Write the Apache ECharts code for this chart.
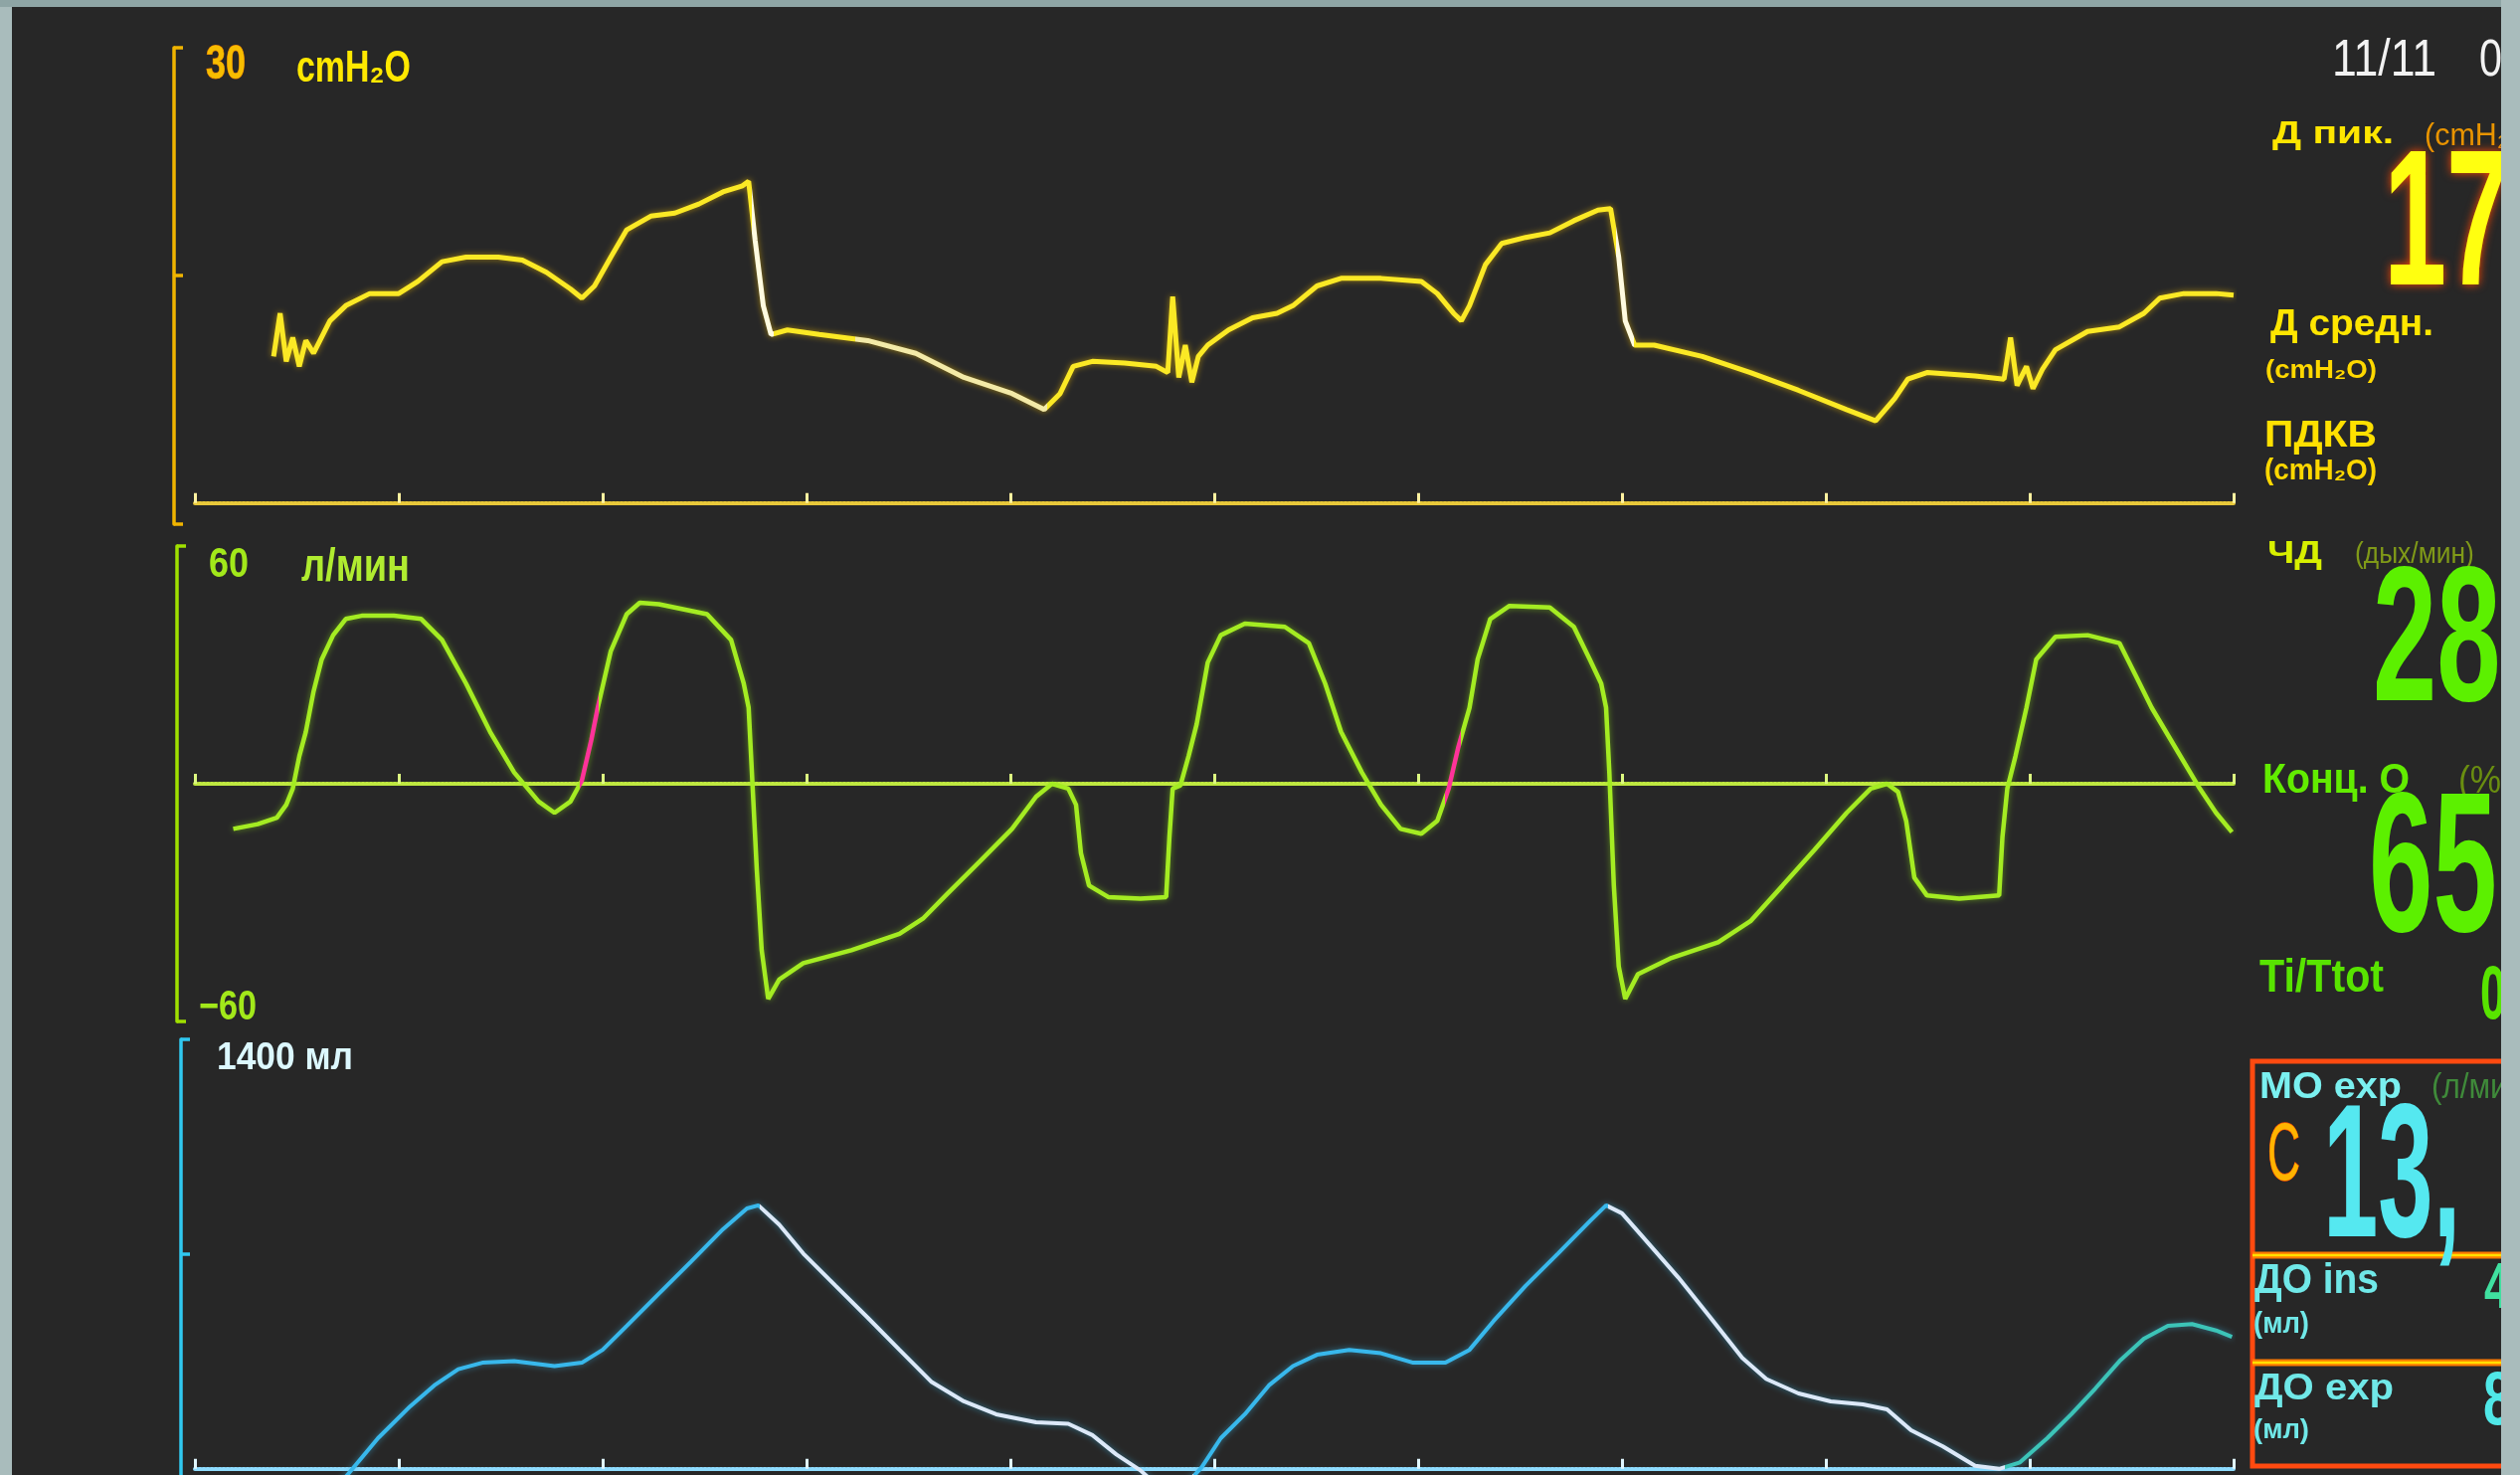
<!DOCTYPE html>
<html><head><meta charset="utf-8">
<script src="https://cdn.jsdelivr.net/npm/echarts@6/dist/echarts.min.js"></script>
<style>html,body{margin:0;padding:0;background:#272727;overflow:hidden}#c{width:2534px;height:1483px}</style>
</head><body><div id="c"></div>
<script>
// ---- data (time in s, pressure cmH2O, flow L/min, volume mL) ----
const pressureTime = [0.193,0.209,0.224,0.240,0.256,0.272,0.291,0.331,0.370,0.429,
 0.500,0.547,0.606,0.665,0.744,0.803,0.862,0.921,0.949,0.980,
 1.020,1.059,1.118,1.177,1.236,1.295,1.343,1.358,1.374,1.394,
 1.413,1.453,1.531,1.650,1.768,1.886,2.004,2.083,2.122,2.154,
 2.201,2.280,2.358,2.386,2.398,2.413,2.429,2.445,2.461,2.484,
 2.535,2.594,2.654,2.693,2.752,2.811,2.909,3.008,3.047,3.087,
 3.106,3.126,3.165,3.205,3.264,3.323,3.382,3.441,3.472,3.492,
 3.508,3.531,3.579,3.697,3.815,3.933,4.051,4.122,4.169,4.201,
 4.248,4.366,4.437,4.453,4.469,4.492,4.508,4.531,4.563,4.642,
 4.720,4.780,4.819,4.878,4.957,5.000];
const pressureValues = [9.65,12.5,9.33,10.9,9.0,10.7,9.86,12.0,13.0,13.8,
 13.8,14.6,15.9,16.2,16.2,16.0,15.2,14.1,13.5,14.3,
 16.2,18.0,18.9,19.1,19.7,20.5,20.9,21.2,17.3,13.0,
 11.1,11.4,11.1,10.7,9.86,8.27,7.21,6.15,7.21,9.0,
 9.33,9.22,9.0,8.59,13.6,8.27,10.4,7.95,9.65,10.4,
 11.4,12.2,12.5,13.0,14.3,14.8,14.8,14.6,13.8,12.5,
 12.0,13.0,15.7,17.1,17.5,17.8,18.6,19.3,19.4,16.2,
 12.0,10.4,10.4,9.65,8.59,7.42,6.15,5.41,6.89,8.16,
 8.59,8.37,8.16,10.9,7.74,9.0,7.53,8.8,10.1,11.3,
 11.6,12.5,13.5,13.8,13.8,13.7];

const flowTime = [0.094,0.154,0.201,0.224,0.240,0.256,0.272,0.291,0.311,0.339,
 0.370,0.409,0.488,0.555,0.606,0.665,0.724,0.783,0.843,0.882,
 0.921,0.949,0.972,0.988,1.020,1.059,1.091,1.138,1.256,1.315,
 1.346,1.358,1.366,1.378,1.390,1.406,1.433,1.492,1.610,1.728,
 1.787,1.846,1.925,2.004,2.063,2.102,2.142,2.161,2.173,2.193,
 2.240,2.319,2.382,2.390,2.398,2.417,2.437,2.457,2.484,2.516,
 2.575,2.673,2.732,2.772,2.811,2.862,2.909,2.957,3.008,3.047,
 3.075,3.098,3.126,3.146,3.177,3.224,3.323,3.382,3.421,3.449,
 3.461,3.469,3.480,3.492,3.508,3.539,3.618,3.736,3.815,3.894,
 3.972,4.051,4.110,4.150,4.177,4.197,4.217,4.248,4.327,4.425,
 4.433,4.445,4.465,4.492,4.516,4.563,4.642,4.720,4.760,4.799,
 4.858,4.917,4.957,4.996];
const flowValues = [-11.4,-10.2,-8.57,-5.3,-1.22,6.94,13.1,23.3,31.4,37.5,
 41.6,42.4,42.4,41.6,36.3,25.3,13.1,2.86,-4.49,-7.34,
 -4.49,0.82,11.0,19.2,33.5,42.8,45.7,45.3,42.8,36.3,
 25.3,19.2,2.86,-21.6,-42.0,-54.3,-49.4,-45.3,-42.0,-37.9,
 -33.9,-27.7,-19.6,-11.4,-3.26,0,-1.22,-5.3,-17.5,-25.7,
 -28.6,-29.0,-28.6,-13.5,-1.22,-0.41,6.94,15.1,30.6,37.5,
 40.4,39.6,35.5,25.3,13.1,2.86,-5.3,-11.4,-12.6,-9.38,
 -1.22,8.98,19.2,31.4,41.6,44.9,44.5,39.6,31.4,25.3,
 19.2,2.86,-25.7,-46.1,-54.3,-48.1,-44.1,-40.0,-34.7,-25.7,
 -16.7,-7.34,-1.22,0,-2.04,-9.38,-23.7,-28.2,-29.0,-28.2,
 -13.5,-1.22,6.94,19.2,31.4,37.1,37.5,35.5,27.3,19.2,
 8.98,-1.22,-7.34,-12.2];

const volumeTime = [0.350,0.449,0.528,0.587,0.646,0.705,0.783,0.882,0.949,1.000,
 1.059,1.138,1.217,1.295,1.354,1.382,1.433,1.492,1.571,1.650,
 1.728,1.807,1.886,1.965,2.063,2.142,2.201,2.260,2.319,2.350,
 2.437,2.469,2.516,2.575,2.634,2.693,2.752,2.831,2.909,2.988,
 3.067,3.126,3.185,3.264,3.343,3.421,3.461,3.500,3.559,3.638,
 3.717,3.795,3.854,3.933,4.012,4.091,4.150,4.209,4.287,4.366,
 4.425,4.476,4.543,4.602,4.661,4.720,4.780,4.839,4.898,4.957,4.996];
const volumeValues = [-58,100,204,272,325,346,351,335,346,388,
 466,571,676,781,849,859,796,702,597,493,
 388,283,220,178,152,147,110,47,-5,-42,
 -42,5,100,178,272,335,372,388,377,346,
 346,388,482,597,702,807,859,833,744,624,
 493,362,293,246,220,210,194,126,73,10,
 0,21,100,178,262,351,424,466,472,451,430];

// axis scale labels
const pressureScale = ['30', 'cmH₂O'];
const flowScale = ['60', 'л/мин', '−60'];
const volumeScale = ['1400 мл'];

const zip = (a, b) => a.map((t, i) => [t, b[i]]);

// ---- text helpers ----
const FAM = '"Liberation Sans", Arial, "DejaVu Sans", sans-serif';
const mctx = document.createElement('canvas').getContext('2d');
const G = [];
function T(text, x0, x1, top, bottom, fill, o) {
  o = o || {};
  const size = (bottom - top) / (o.ratio || 0.716);
  const font = (o.bold ? 'bold ' : '') + size.toFixed(1) + 'px ' + FAM;
  let sx = o.sx;
  if (sx == null) { mctx.font = font; sx = (x1 - x0) / mctx.measureText(text).width; }
  const style = {text: text, font: font, fill: fill, align: 'left', verticalAlign: 'middle',
    textAlign: 'left', textVerticalAlign: 'middle'};
  if (o.stroke) { style.stroke = o.stroke; style.lineWidth = o.lw || 1; }
  if (o.glow) { style.shadowColor = o.glow; style.shadowBlur = o.blur || 8;
    style.textShadowColor = o.glow; style.textShadowBlur = o.blur || 8; }
  G.push({type: 'text', x: x0, y: (top + bottom) / 2 + 0.01 * size, scaleX: sx, z: 50, silent: true, style: style});
}

// left scale labels
T(pressureScale[0], 207, 247, 48, 82, '#f7bd00', {bold: true, stroke: '#e07000', lw: 1});
T(pressureScale[1], 298, 413, 53, 85, '#ffe800', {bold: true});
T(flowScale[0], 210, 250, 553, 583, '#a2e81a', {bold: true});
T(flowScale[1], 303, 412, 556, 585, '#b0ec30', {ratio: 0.62, bold: true});
T(flowScale[2], 200, 258, 998, 1028, '#a2e81a', {bold: true});
T(volumeScale[0], 218, 355, 1050, 1078, '#dcf8ff', {bold: true});

// right panel
T('11/11', 2345, 2450, 43, 80, '#f2f2f2');
T('0', 2493, null, 43, 80, '#f2f2f2', {sx: 0.8});
T('Д пик.', 2285, 2407, 123, 146, '#ffe600', {bold: true});
T('(cmH₂O)', 2438, null, 125, 148, '#e89400', {sx: 0.95});
T('17', 2397, null, 160, 300, '#ffff10', {sx: 0.58, bold: true, glow: '#ff4a00', blur: 10});
T('Д средн.', 2283, 2447, 314, 340, '#ffe600', {bold: true});
T('(cmH₂O)', 2278, 2390, 363, 382, '#ffd800', {bold: true});
T('ПДКВ', 2277, 2390, 425, 452, '#ffe000', {bold: true});
T('(cmH₂O)', 2277, 2390, 463, 484, '#ffd800', {bold: true});
T('ЧД', 2280, 2335, 545, 568, '#d8f000', {bold: true});
T('(дых/мин)', 2368, null, 547, 568, '#809a18', {sx: 0.9});
T('28', 2386, null, 580, 718, '#5cf000', {sx: 0.6, bold: true});
T('Конц. O', 2275, 2423, 770, 800, '#62ec00', {bold: true});
T('(%)', 2472, null, 772, 800, '#6a8e10', {sx: 0.9});
T('65', 2382, null, 807, 950, '#5cf000', {sx: 0.58, bold: true});
T('Ti/Ttot', 2272, 2397, 967, 1000, '#58e400', {bold: true});
T('0', 2494, null, 975, 1030, '#58e400', {sx: 0.6, bold: true});
T('МО exp', 2272, 2415, 1080, 1107, '#7af0f0', {bold: true});
T('(л/мин)', 2445, null, 1082, 1107, '#3f8a3a', {sx: 0.9});
T('C', 2280, 2313, 1133, 1192, '#ffb400', {stroke: '#ff5000', lw: 1.5});
T('13,', 2336, null, 1120, 1257, '#55e8f0', {sx: 0.52, bold: true});
T('ДО ins', 2267, 2392, 1273, 1303, '#70e8e8', {bold: true});
T('(мл)', 2266, 2322, 1321, 1342, '#70e8e8', {bold: true});
T('4', 2498, null, 1273, 1320, '#40e0a0', {sx: 0.7, bold: true});
T('ДО exp', 2267, 2407, 1383, 1410, '#70e8e8', {bold: true});
T('(мл)', 2266, 2322, 1428, 1448, '#70e8e8', {bold: true});
T('8', 2497, null, 1383, 1437, '#50e8e8', {sx: 0.7, bold: true});

// parameter box
G.push({type: 'rect', z: 45, silent: true, shape: {x: 2265, y: 1067, width: 330, height: 407},
  style: {fill: 'none', stroke: '#ff4a10', lineWidth: 5}});
[1262, 1370].forEach(function (yy) {
  G.push({type: 'line', z: 45, silent: true, shape: {x1: 2265, y1: yy, x2: 2600, y2: yy}, style: {stroke: '#ff7a00', lineWidth: 7}});
  G.push({type: 'line', z: 46, silent: true, shape: {x1: 2265, y1: yy, x2: 2600, y2: yy}, style: {stroke: '#ffe000', lineWidth: 2.5}});
});
// frame strips
G.push({type: 'rect', z: 100, silent: true, shape: {x: 0, y: 0, width: 12, height: 1483}, style: {fill: '#a9bcbc'}});
G.push({type: 'rect', z: 100, silent: true, shape: {x: 0, y: 0, width: 2534, height: 7}, style: {fill: '#8ea5a5'}});
G.push({type: 'rect', z: 100, silent: true, shape: {x: 2515, y: 0, width: 19, height: 1483}, style: {fill: '#a9bcbc'}});

// ---- axes ----
function xAx(gi, color, tickColor) {
  return {gridIndex: gi, type: 'value', min: 0, max: 5, interval: 0.5,
    axisLine: {show: true, onZero: true, lineStyle: {color: color, width: 4, type: [2, 2]}},
    axisTick: {show: true, inside: true, length: 10, lineStyle: {color: tickColor, width: 3}},
    axisLabel: {show: false}, splitLine: {show: false}};
}
function yAx(gi, min, max, offset, color, ticks) {
  return {gridIndex: gi, type: 'value', min: min, max: max, offset: offset,
    axisLine: {show: true, onZero: false, lineStyle: {color: color, width: 3.5}},
    axisTick: {show: true, inside: true, length: 9, customValues: ticks, lineStyle: {color: color, width: 3.5}},
    axisLabel: {show: false}, splitLine: {show: false}};
}

const option = {
  backgroundColor: '#272727',
  animation: false,
  textStyle: {fontFamily: FAM},
  grid: [
    {left: 196, top: 48, width: 2050, height: 479},
    {left: 196, top: 549, width: 2050, height: 478},
    {left: 196, top: 1045, width: 2050, height: 438}
  ],
  xAxis: [
    xAx(0, '#e8c83a', '#fff2a0'),
    xAx(1, '#bfe840', '#dcf880'),
    xAx(2, '#8fdcff', '#e0f6ff')
  ],
  yAxis: [
    yAx(0, -1.4, 30, 21, '#f0b400', [-1.4, 15, 30]),
    yAx(1, -60, 60, 18, '#a0e000', [-60, 60]),
    yAx(2, -20, 1400, 14, '#30c8f0', [700, 1400])
  ],
  visualMap: [
    {type: 'piecewise', show: false, seriesIndex: 0, dimension: 0, pieces: [
      {lt: 1.365, color: '#fbe925'}, {gte: 1.365, lt: 1.42, color: '#fffbe0'},
      {gte: 1.42, lt: 1.62, color: '#fbe925'}, {gte: 1.62, lt: 2.09, color: '#f3eaa8'},
      {gte: 2.09, lt: 3.485, color: '#fbe925'}, {gte: 3.485, lt: 3.53, color: '#fffbe0'},
      {gte: 3.53, color: '#fbe925'}]},
    {type: 'piecewise', show: false, seriesIndex: 1, dimension: 0, pieces: [
      {lt: 0.945, color: '#a4ec22'}, {gte: 0.945, lt: 0.99, color: '#ff3399'},
      {gte: 0.99, lt: 3.065, color: '#a4ec22'}, {gte: 3.065, lt: 3.105, color: '#ff3399'},
      {gte: 3.105, color: '#a4ec22'}]},
    {type: 'piecewise', show: false, seriesIndex: 2, dimension: 0, pieces: [
      {lt: 1.385, color: '#38b8ec'}, {gte: 1.385, lt: 2.45, color: '#dce8f8'},
      {gte: 2.45, lt: 3.465, color: '#38b8ec'}, {gte: 3.465, lt: 4.44, color: '#dce8f8'},
      {gte: 4.44, color: '#3cc4b8'}]}
  ],
  series: [
    {name: 'Давление', type: 'line', xAxisIndex: 0, yAxisIndex: 0, data: zip(pressureTime, pressureValues),
      symbol: 'none', showSymbol: false, silent: true,
      lineStyle: {width: 5, shadowBlur: 6, shadowColor: 'rgba(255,200,0,0.55)'}},
    {name: 'Поток', type: 'line', xAxisIndex: 1, yAxisIndex: 1, data: zip(flowTime, flowValues),
      symbol: 'none', showSymbol: false, silent: true,
      lineStyle: {width: 4.5, shadowBlur: 6, shadowColor: 'rgba(150,240,20,0.5)'}},
    {name: 'Объём', type: 'line', xAxisIndex: 2, yAxisIndex: 2, data: zip(volumeTime, volumeValues),
      symbol: 'none', showSymbol: false, silent: true,
      lineStyle: {width: 4, shadowBlur: 6, shadowColor: 'rgba(60,190,240,0.5)'}}
  ],
  graphic: {elements: G}
};
const chart = echarts.init(document.getElementById('c'), null, {renderer: 'canvas'});
chart.setOption(option);
</script>
</body></html>
